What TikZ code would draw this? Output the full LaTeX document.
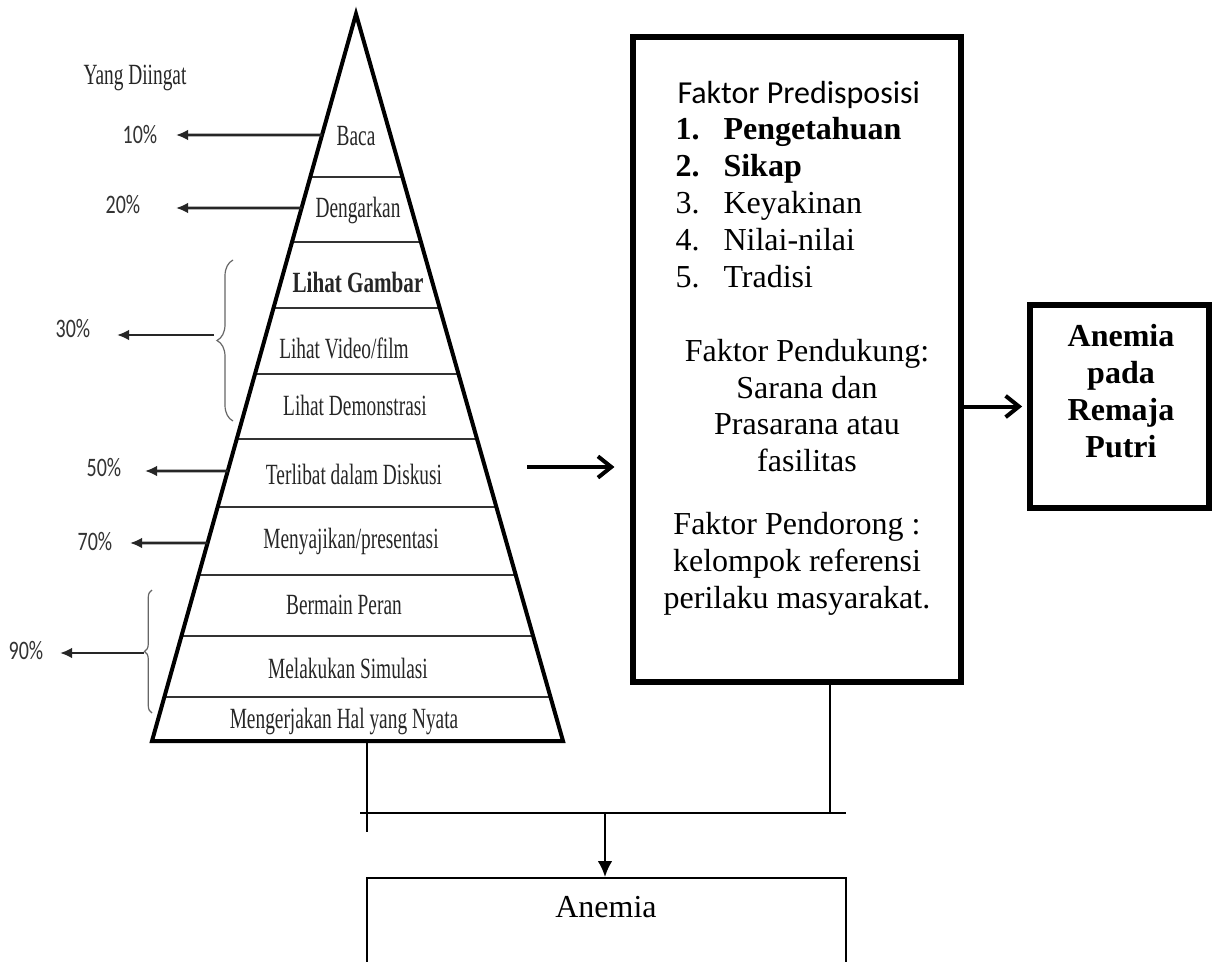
\documentclass[tikz,border=0pt]{standalone}
\usepackage{fontspec}
\setmainfont{Liberation Serif}
\newfontfamily\calibri{Carlito}
\usepackage{graphicx}
\usetikzlibrary{arrows.meta,decorations.pathreplacing,fit,calc}
\newcommand{\cn}[1]{\scalebox{0.66}[1]{#1}}
\newcommand{\cnb}[1]{\scalebox{0.72}[1]{\bfseries #1}}
\newcommand{\pc}[1]{\scalebox{0.75}[1]{\calibri #1}}
\begin{document}
\begin{tikzpicture}[x=0.375pt,y=-0.375pt,
  pyr/.style={inner sep=0, text=black!85, font=\fontsize{11}{13}\selectfont},
  pct/.style={inner sep=0, text=black!80, font=\fontsize{10}{12}\selectfont},
  layer/.style={line width=0.9pt, black!80},
  pctarrow/.style={line width=0.95pt, black!85, -{Latex[length=4.5pt,width=4pt]}},
  bracestyle/.style={line width=0.45pt, black!60, decorate},
  bigbox/.style={draw, line width=1.9pt, inner sep=0},
  thickarrow/.style={line width=1.5pt, -{Straight Barb[length=5pt,width=8pt,line width=1.5pt]}},
  rt/.style={inner sep=0, font=\fontsize{12}{14}\selectfont},
  thinline/.style={line width=0.75pt},
]
\useasboundingbox (0,0) rectangle (1212,962);
\fill[white] (0,0) rectangle (1212,962);

% pyramid
\coordinate (apex) at (356,14);
\coordinate (bl) at (152,741);
\coordinate (br) at (563,741);
\foreach \yy in {177,242,308,374,439,507,575,636,697}
  \draw[layer] ($(apex)!{(\yy-14)/727}!(bl)$) -- ($(apex)!{(\yy-14)/727}!(br)$);
\draw[line width=1.5pt, line join=miter] (apex) -- (br) -- (bl) -- cycle;

\node[pyr] (baca) at (356,136) {\cn{Baca}};
\node[pyr] (dengar) at (358,210) {\cn{Dengarkan}};
\node[pyr] (gambar) at (358,282) {\cnb{Lihat Gambar}};
\node[pyr] (video) at (344,348) {\cn{Lihat Video/film}};
\node[pyr] (demo) at (355,405) {\cn{Lihat Demonstrasi}};
\node[pyr] (diskusi) at (354,474) {\cn{Terlibat dalam Diskusi}};
\node[pyr] (saji) at (351,541) {\cn{Menyajikan/presentasi}};
\node[pyr] (peran) at (344,605) {\cn{Bermain Peran}};
\node[pyr] (simulasi) at (348,668) {\cn{Melakukan Simulasi}};
\node[pyr] (nyata) at (344,721) {\cn{Mengerjakan Hal yang Nyata}};

\node[pyr] (diingat) at (135,78) {\cn{Yang Diingat}};

% percentages
\node[pct] (p10) at (140,135) {\pc{10\%}};
\node[pct] (p20) at (123,205) {\pc{20\%}};
\node[pct] (p30) at (73,329) {\pc{30\%}};
\node[pct] (p50) at (104,468) {\pc{50\%}};
\node[pct] (p70) at (95,542) {\pc{70\%}};
\node[pct] (p90) at (26,651) {\pc{90\%}};

\coordinate (s10) at ($(apex)!{(135-14)/727}!(bl)$);
\coordinate (e10) at (176,135);
\draw[pctarrow] (s10) -- (e10);
\coordinate (s20) at ($(apex)!{(208-14)/727}!(bl)$);
\coordinate (e20) at (176,208);
\draw[pctarrow] (s20) -- (e20);
\coordinate (s50) at ($(apex)!{(471-14)/727}!(bl)$);
\coordinate (e50) at (145,471);
\draw[pctarrow] (s50) -- (e50);
\coordinate (s70) at ($(apex)!{(543-14)/727}!(bl)$);
\coordinate (e70) at (130,543);
\draw[pctarrow] (s70) -- (e70);

% braces
\draw[bracestyle, decoration={brace, amplitude=6pt}] (233,421) -- (233,260);
\coordinate (s30) at (214,335);
\coordinate (e30) at (117,335);
\draw[pctarrow] (s30) -- (e30);
\draw[bracestyle, decoration={brace, amplitude=2.8pt}] (152,713) -- (152,590);
\coordinate (s90) at (144,653);
\coordinate (e90) at (60,653);
\draw[pctarrow] (s90) -- (e90);

% factor box
\node[bigbox, fit={(633,37) (961,682)}] (fb) {};
\node[rt, anchor=mid west] (predis) at (677,97) {\calibri Faktor Predisposisi};
\node[rt, anchor=mid west] (n1) at (675,133) {\textbf{1.}};
\node[rt, anchor=mid west] (t1) at (723,133) {\textbf{Pengetahuan}};
\node[rt, anchor=mid west] (n2) at (675,170) {\textbf{2.}};
\node[rt, anchor=mid west] (t2) at (723,170) {\textbf{Sikap}};
\node[rt, anchor=mid west] (n3) at (675,207) {3.};
\node[rt, anchor=mid west] (t3) at (723,207) {Keyakinan};
\node[rt, anchor=mid west] (n4) at (675,244) {4.};
\node[rt, anchor=mid west] (t4) at (723,244) {Nilai-nilai};
\node[rt, anchor=mid west] (n5) at (675,281) {5.};
\node[rt, anchor=mid west] (t5) at (723,281) {Tradisi};
\node[rt, anchor=mid] (d1) at (807,355) {Faktor Pendukung:};
\node[rt, anchor=mid] (d2) at (807,392) {Sarana dan};
\node[rt, anchor=mid] (d3) at (807,428) {Prasarana atau};
\node[rt, anchor=mid] (d4) at (807,465) {fasilitas};
\node[rt, anchor=mid] (o1) at (797,528) {Faktor Pendorong :};
\node[rt, anchor=mid] (o2) at (797,565) {kelompok referensi};
\node[rt, anchor=mid] (o3) at (797,602) {perilaku masyarakat.};

% anemia pada remaja putri
\node[bigbox, fit={(1030,305) (1209,508)}] (ap) {};
\node[rt, anchor=mid, font=\fontsize{12}{14}\selectfont\bfseries] (ap1) at (1121,340) {Anemia};
\node[rt, anchor=mid, font=\fontsize{12}{14}\selectfont\bfseries] (ap2) at (1121,377) {pada};
\node[rt, anchor=mid, font=\fontsize{12}{14}\selectfont\bfseries] (ap3) at (1121,414) {Remaja};
\node[rt, anchor=mid, font=\fontsize{12}{14}\selectfont\bfseries] (ap4) at (1121,451) {Putri};

\draw[thickarrow, shorten >=2pt] (fb.east |- ap.west) -- (ap.west);
\coordinate (inarrow) at (527,467);
\draw[thickarrow, shorten >=6pt] (inarrow) -- (inarrow -| fb.west);

% bottom connectors
\node[draw, thinline, inner sep=0, fit={(367,878) (846,1000)}] (an) {};
\node[rt, anchor=mid] (antext) at (606,911) {Anemia};
\coordinate (pbot) at (367,741);
\coordinate (tick) at (367,832);
\draw[thinline] (pbot) -- (tick);
\coordinate (hl) at (360,813);
\coordinate (hr) at (846,813);
\draw[thinline] (hl) -- (hr);
\coordinate (fbdrop) at (830,682);
\draw[thinline] (fbdrop) -- (fbdrop |- hl);
\coordinate (hm) at (605,813);
\draw[thinline, -{Latex[length=6pt,width=5.5pt]}] (hm) -- (hm |- an.north);
\end{tikzpicture}
\end{document}
